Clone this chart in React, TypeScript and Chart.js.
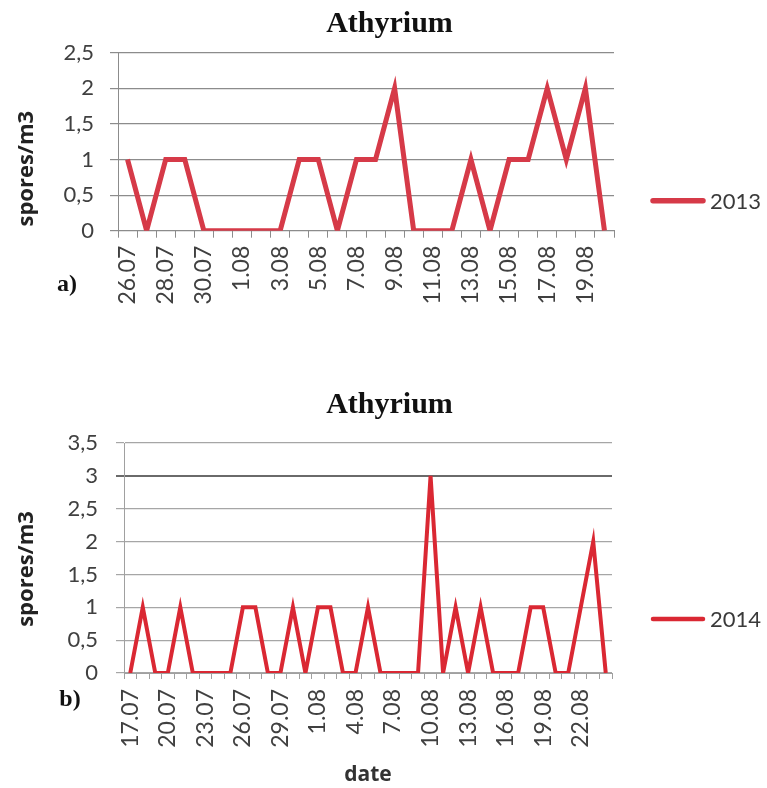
import React, { useEffect, useRef } from 'react';
import { Chart, registerables } from 'chart.js';

Chart.register(...registerables);

// ---------- data ----------
const dates2013 = [
  '26.07', '27.07', '28.07', '29.07', '30.07', '31.07',
  '1.08', '2.08', '3.08', '4.08', '5.08', '6.08', '7.08', '8.08', '9.08', '10.08',
  '11.08', '12.08', '13.08', '14.08', '15.08', '16.08', '17.08', '18.08', '19.08', '20.08',
];
const values2013 = [1, 0, 1, 1, 0, 0, 0, 0, 0, 1, 1, 0, 1, 1, 2, 0, 0, 0, 1, 0, 1, 1, 2, 1, 2, 0];

const dates2014 = [
  '17.07', '18.07', '19.07', '20.07', '21.07', '22.07', '23.07', '24.07', '25.07', '26.07',
  '27.07', '28.07', '29.07', '30.07', '31.07',
  '1.08', '2.08', '3.08', '4.08', '5.08', '6.08', '7.08', '8.08', '9.08', '10.08',
  '11.08', '12.08', '13.08', '14.08', '15.08', '16.08', '17.08', '18.08', '19.08', '20.08',
  '21.08', '22.08', '23.08', '24.08',
];
const values2014 = [
  0, 1, 0, 0, 1, 0, 0, 0, 0, 1, 1, 0, 0, 1, 0,
  1, 1, 0, 0, 1, 0, 0, 0, 0, 3, 0, 1, 0, 1, 0, 0, 0, 1, 1, 0, 0, 1, 2, 0,
];

const titleText = 'Athyrium';
const yTitle = 'spores/m3';
const xTitle2014 = 'date';
const seriesName2013 = '2013';
const seriesName2014 = '2014';
const yMax2013 = 2.5;
const yMax2014 = 3.5;
const yStep = 0.5;
const labelEvery2013 = 2;
const labelEvery2014 = 3;

const SANS = 'Lato';
const TITLE_SANS = '"Open Sans"';
const SERIF = '"Liberation Serif", "Times New Roman", serif';

const extrasPlugin = {
  id: 'extras',
  afterDraw(chart: any, _args: any, opts: any) {
    const { ctx, chartArea } = chart;
    ctx.save();
    // legend
    const ly = chartArea.bottom - opts.legendDy;
    const lx = chartArea.right + opts.legendDx;
    ctx.strokeStyle = opts.color;
    ctx.lineWidth = opts.legendLineWidth;
    ctx.lineCap = 'round';
    ctx.beginPath();
    ctx.moveTo(lx, ly);
    ctx.lineTo(lx + 50, ly);
    ctx.stroke();
    ctx.fillStyle = '#3a3a3a';
    ctx.font = `22px ${SANS}`;
    ctx.textBaseline = 'middle';
    ctx.textAlign = 'left';
    ctx.fillText(opts.legendText, lx + 57, ly + 1);
    // y-axis title
    ctx.save();
    ctx.translate(opts.yTitleX, (chartArea.top + chartArea.bottom) / 2 + opts.yTitleDy);
    ctx.rotate(-Math.PI / 2);
    ctx.fillStyle = '#222';
    ctx.font = `bold 22px ${TITLE_SANS}`;
    ctx.textAlign = 'center';
    ctx.textBaseline = 'middle';
    ctx.fillText(yTitle, 0, 0);
    ctx.restore();
    // panel label
    ctx.fillStyle = '#111';
    ctx.font = `bold 24px ${SERIF}`;
    ctx.textAlign = 'center';
    ctx.textBaseline = 'middle';
    ctx.fillText(opts.panel, chartArea.left + opts.panelDx, chartArea.bottom + opts.panelDy);
    ctx.restore();
  },
};

function makeConfig(p: any) {
  const fmt = (v: any) => String(v).replace('.', ',');
  return {
    type: 'line',
    data: {
      labels: p.labels,
      datasets: [
        {
          label: p.name,
          data: p.values,
          borderColor: p.color,
          borderWidth: p.lineWidth,
          pointRadius: 0,
          tension: 0,
          borderJoinStyle: 'miter',
          fill: false,
          yAxisID: 'y',
        },
      ],
    },
    options: {
      animation: false,
      responsive: false,
      maintainAspectRatio: false,
      devicePixelRatio: 1,
      layout: { padding: 0 },
      plugins: {
        legend: { display: false },
        tooltip: { enabled: false },
        title: {
          display: true,
          text: titleText,
          color: '#111',
          font: { family: SERIF, size: 30, weight: 'bold' },
          padding: { top: p.titleTop, bottom: p.titleBottom },
        },
        extras: {
          color: p.color,
          legendLineWidth: p.lineWidth + 0.5,
          legendText: p.name,
          legendDx: p.legendDx,
          legendDy: p.legendDy,
          panel: p.panel,
          panelDx: p.panelDx,
          panelDy: p.panelDy,
          yTitleX: 15,
          yTitleDy: p.yTitleDy,
        },
      },
      scales: {
        x: {
          type: 'category',
          offset: true,
          afterFit: (s: any) => { s.height = p.xHeight; },
          grid: {
            offset: true,
            drawOnChartArea: false,
            drawTicks: true,
            tickLength: p.xTickLen,
            color: p.gridColor,
          },
          border: { color: p.gridColor },
          ticks: {
            autoSkip: false,
            minRotation: 90,
            maxRotation: 90,
            padding: p.xPad,
            color: '#404040',
            font: { family: SANS, size: 23 },
            callback: (_v: any, i: number) => (i % p.every === 0 ? p.labels[i] : ''),
          },
          title: p.xTitle
            ? {
                display: true,
                text: p.xTitle,
                color: '#333',
                font: { family: TITLE_SANS, size: 21, weight: 'bold' },
                padding: { top: 0, bottom: 0 },
              }
            : { display: false },
        },
        y: {
          type: 'linear',
          min: 0,
          max: p.yMax,
          afterFit: (s: any) => { s.width = p.yWidth; },
          grid: {
            color: p.gridColorFn,
            lineWidth: p.gridWidthFn,
            drawTicks: true,
            tickLength: 8,
          },
          border: { color: p.gridColor },
          ticks: {
            stepSize: yStep,
            padding: p.yPad,
            color: '#404040',
            font: { family: SANS, size: 22 },
            callback: fmt,
          },
          title: { display: false },
        },
        yR: {
          type: 'linear',
          position: 'right',
          display: true,
          afterFit: (s: any) => { s.width = p.rightWidth; },
          grid: { display: false, drawTicks: false },
          border: { display: false },
          ticks: { display: false },
        },
      },
    },
    plugins: [extrasPlugin],
  };
}

function ChartCanvas({ config, style }: { config: any; style: any }) {
  const ref = useRef<HTMLCanvasElement | null>(null);
  useEffect(() => {
    if (!ref.current) return;
    const chart = new Chart(ref.current, config);
    return () => chart.destroy();
  }, []);
  return (
    <canvas
      ref={ref}
      width={style.width}
      height={style.height}
      style={{ position: 'absolute', display: 'block', ...style }}
    />
  );
}

export default function App() {
  const cfg2013 = makeConfig({
    labels: dates2013,
    values: values2013,
    name: seriesName2013,
    color: '#d63a48',
    lineWidth: 5,
    yMax: yMax2013,
    every: labelEvery2013,
    titleTop: 6,
    titleBottom: 10.7,
    xHeight: 84.3,
    xTickLen: 7,
    xPad: 8,
    yWidth: 106,
    yPad: 16,
    rightWidth: 153,
    gridColor: '#8c8c8c',
    gridColorFn: '#8c8c8c',
    gridWidthFn: 1.2,
    legendDx: 39,
    legendDy: 30,
    panel: 'a)',
    panelDx: -51,
    panelDy: 54,
    yTitleDy: 27,
    xTitle: null,
  });
  const cfg2014 = makeConfig({
    labels: dates2014,
    values: values2014,
    name: seriesName2014,
    color: '#da2833',
    lineWidth: 4,
    yMax: yMax2014,
    every: labelEvery2014,
    titleTop: 7,
    titleBottom: 20,
    xHeight: 115,
    xTickLen: 6,
    xPad: 10,
    yWidth: 112,
    yPad: 18,
    rightWidth: 155,
    gridColor: '#a0a0a0',
    gridColorFn: (c: any) => (c.tick && c.tick.value === 3 ? '#6a6a6a' : '#a6a6a6'),
    gridWidthFn: (c: any) => (c.tick && c.tick.value === 3 ? 2 : 1.2),
    legendDx: 41,
    legendDy: 54,
    panel: 'b)',
    panelDx: -54,
    panelDy: 27,
    yTitleDy: 11,
    xTitle: xTitle2014,
  });
  return (
    <div style={{ position: 'absolute', left: 0, top: 0, width: 767, height: 788, background: '#fff' }}>
      <ChartCanvas config={cfg2013} style={{ left: 12, top: 0, width: 755, height: 315 }} />
      <ChartCanvas config={cfg2014} style={{ left: 12, top: 380, width: 755, height: 408 }} />
    </div>
  );
}
